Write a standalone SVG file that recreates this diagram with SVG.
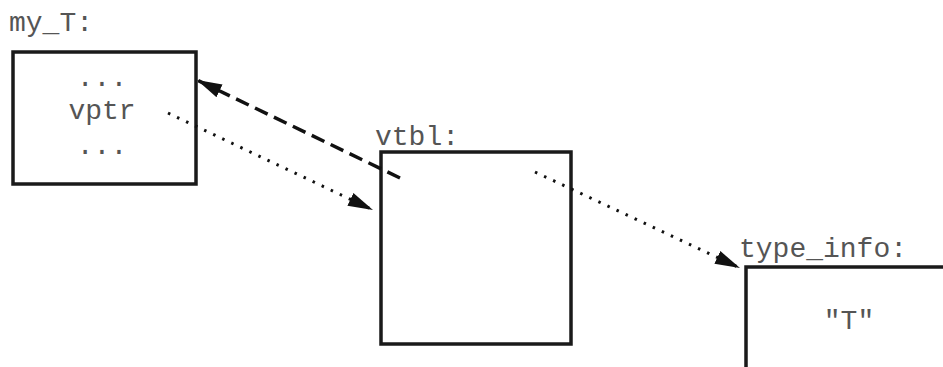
<svg xmlns="http://www.w3.org/2000/svg" width="943" height="367" viewBox="0 0 943 367">
<defs>
<style>
.box{fill:none;stroke:#1a1a1a;stroke-width:3.5}
.t{font-family:"Liberation Mono","Courier New",monospace;font-size:28px;fill:#555}
.dash{fill:none;stroke:#111;stroke-width:3.5;stroke-dasharray:14 7}
.dot{fill:none;stroke:#111;stroke-width:3;stroke-dasharray:2.5 7.5}
</style>
<marker id="ah" markerUnits="userSpaceOnUse" markerWidth="26" markerHeight="16" viewBox="0 0 26 16" refX="25" refY="8" orient="auto">
<path d="M0,1 L25,8 L0,15 Z" fill="#111"/>
</marker>
</defs>
<g id="my_T">
<text class="t" x="9" y="31">my_T:</text>
<rect class="box" x="13" y="52" width="183" height="132"/>
<text class="t" x="102" y="86" text-anchor="middle">...</text>
<text class="t" x="102" y="119" text-anchor="middle">vptr</text>
<text class="t" x="102" y="154" text-anchor="middle">...</text>
</g>
<g id="vtbl">
<text class="t" x="375" y="145">vtbl:</text>
<rect class="box" x="381" y="152" width="190" height="192"/>
</g>
<g id="type_info">
<text class="t" x="739" y="257">type_info:</text>
<rect class="box" x="746" y="267" width="210" height="120"/>
<text class="t" x="849" y="329" text-anchor="middle">"T"</text>
</g>
<g id="connectors">
<line class="dash" x1="400" y1="178" x2="197" y2="80" marker-end="url(#ah)"/>
<line class="dot" x1="168" y1="113" x2="373" y2="210" marker-end="url(#ah)"/>
<line class="dot" x1="535" y1="172" x2="740" y2="268" marker-end="url(#ah)"/>
</g>
</svg>
